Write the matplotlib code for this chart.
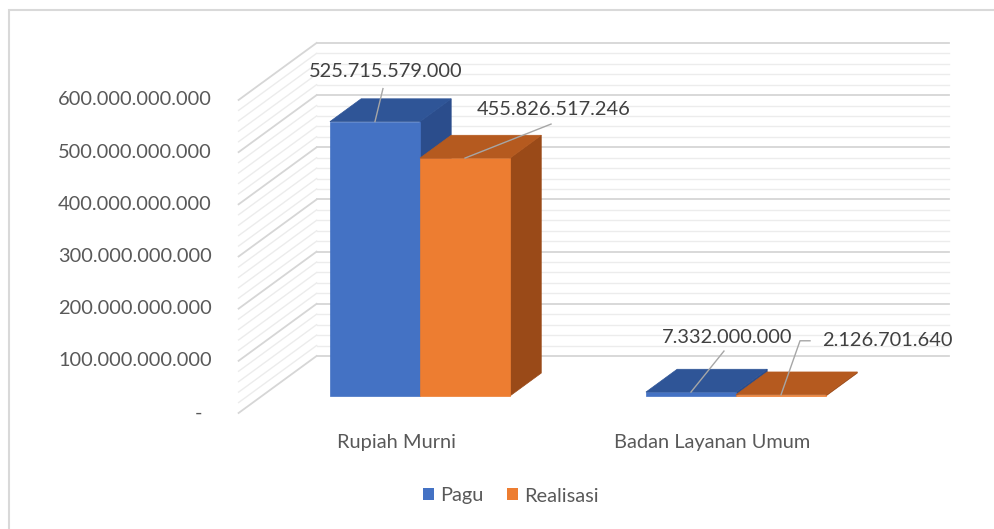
import matplotlib.pyplot as plt
from matplotlib.patches import Polygon, Patch, Rectangle

plt.rcParams['font.family'] = ['Lato', 'DejaVu Sans']

# data
categories = ['Rupiah Murni', 'Badan Layanan Umum']
series_names = ['Pagu', 'Realisasi']
pagu = [525715579000, 7332000000]
realisasi = [455826517246, 2126701640]
y_ticks = [0, 100e9, 200e9, 300e9, 400e9, 500e9, 600e9]
minor_step = 20e9

# style
front_colors = ['#4472C4', '#ED7D31']
top_colors = ['#2F5597', '#B55A1F']
side_colors = ['#2B4D8C', '#9A4A18']
text_color = '#404040'
axis_text = '#595959'
bar_w = 0.285
depth = (0.3, 0.7)
DX, DY = 0.2468, 109.3  # oblique offset per unit depth (category units, billions)


def fmt(v):
    if v == 0:
        return '-'
    return f'{v:,.0f}'.replace(',', '.')


def P(x, v, d):
    return (x + d * DX, v + d * DY)


fig = plt.figure(figsize=(9.95, 5.29), dpi=100)
ax = fig.add_axes([0, 0, 1, 1])
ax.set_xlim(-1.2551, 1.8937)
ax.set_ylim(-222.35, 791.6)
ax.axis('off')

# chart border
fig.patches.append(Rectangle((8.5 / 995, -0.1), 1.2, 1 - 9.5 / 529 + 0.1, fill=False,
                             ec='#d9d9d9', lw=1.5, transform=fig.transFigure))

xmin, xmax = -0.5, len(categories) - 0.5
top = y_ticks[-1] / 1e9
n_minor = int(round(y_ticks[-1] / minor_step))
for i in range(n_minor + 1):
    v = i * minor_step / 1e9
    major = abs(v % 100) < 1e-6
    c = '#d6d6d6' if major else '#ececec'
    lw = 1.3 if major else 1.0
    a, b = P(xmin, v, 0), P(xmin, v, 1)
    ax.plot([a[0], b[0]], [a[1], b[1]], color=c, lw=lw, zorder=1)
    a, b = P(xmin, v, 1), P(xmax, v, 1)
    ax.plot([a[0], b[0]], [a[1], b[1]], color=c, lw=lw, zorder=1)

for t in y_ticks:
    ax.annotate(fmt(t), (xmin, t / 1e9), xytext=(-36 if t == 0 else -27, 0),
                textcoords='offset pixels', ha='right', va='center',
                fontsize=14.4, color=axis_text)

# bars
series = [pagu, realisasi]
anchors = []
for ci, cat in enumerate(categories):
    for si, vals in enumerate(series):
        h = vals[ci] / 1e9
        x0 = ci - bar_w + si * bar_w
        x1 = x0 + bar_w
        d0, d1 = depth
        front = [P(x0, 0, d0), P(x1, 0, d0), P(x1, h, d0), P(x0, h, d0)]
        topf = [P(x0, h, d0), P(x1, h, d0), P(x1, h, d1), P(x0, h, d1)]
        side = [P(x1, 0, d0), P(x1, h, d0), P(x1, h, d1), P(x1, 0, d1)]
        ax.add_patch(Polygon(side, closed=True, fc=side_colors[si], ec=side_colors[si], lw=0.5, zorder=2))
        ax.add_patch(Polygon(front, closed=True, fc=front_colors[si], ec=front_colors[si], lw=0.5, zorder=2))
        ax.add_patch(Polygon(topf, closed=True, fc=top_colors[si], ec=top_colors[si], lw=0.5, zorder=2))
        anchors.append((P((x0 + x1) / 2, h, d0), vals[ci]))
    ax.annotate(cat, P(ci, 0, 0), xytext=(0, -30), textcoords='offset pixels',
                ha='center', va='center', fontsize=14.4, color=axis_text)

# data labels: (label centre offset px, leader start offset px, elbow)
label_offsets = [((11, 50), (8, 33), None),
                 ((89, 49), (86, 34), None),
                 ((36, 55), (33, 41), None),
                 ((106, 54), (29, 54), (19, 54))]
inv = ax.transData.inverted()
for (anchor, val), (lo, st, elbow) in zip(anchors, label_offsets):
    ap = ax.transData.transform(anchor)
    pts = [ap + [st[0], st[1]]]
    if elbow is not None:
        pts = [ap + [st[0], st[1]], ap + [elbow[0], elbow[1]]]
    pts.append(ap)
    dp = inv.transform(pts)
    ax.plot(dp[:, 0], dp[:, 1], color='#a6a6a6', lw=1.0, zorder=3)
    ax.annotate(fmt(val), anchor, xytext=lo, textcoords='offset pixels',
                ha='center', va='center', fontsize=14.4, color=text_color, zorder=4)

handles = [Patch(fc=front_colors[i], ec='none', label=series_names[i]) for i in range(2)]
fig.legend(handles=handles, loc='center', bbox_to_anchor=(511 / 995, 1 - 496 / 529), ncol=2,
           frameon=False, fontsize=14.4, handlelength=0.55, handleheight=0.55,
           handletextpad=0.3, columnspacing=1.2, labelcolor=axis_text)

fig.savefig('out.png', dpi=100)
